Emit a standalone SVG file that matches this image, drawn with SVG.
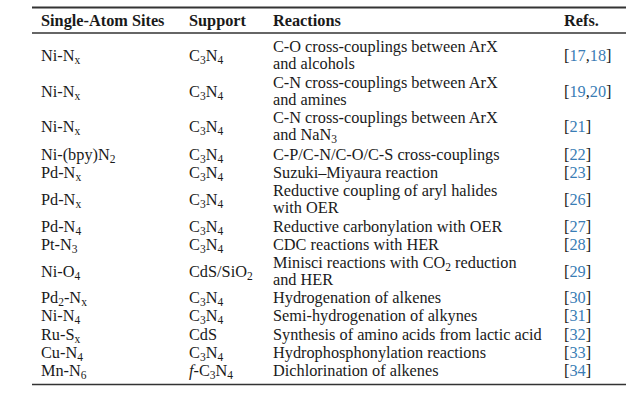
<svg xmlns="http://www.w3.org/2000/svg" width="642" height="400" viewBox="0 0 642 400">
<style>
text{font-family:"Liberation Serif","Times New Roman",serif;font-size:16.3px;fill:#1a1a1a}
.h{font-weight:bold}
.s{font-size:11.5px}
.r{fill:#3a7db5}
.rule{stroke:#333;fill:none}
</style>
<rect width="642" height="400" fill="#ffffff"/>
<g id="rules">
<line class="rule" x1="32" y1="7.5" x2="626" y2="7.5" stroke-width="2"/>
<line class="rule" x1="32" y1="33" x2="626" y2="33" stroke-width="1.3"/>
<line class="rule" x1="32" y1="384.5" x2="626" y2="384.5" stroke-width="1.5"/>
</g>
<g id="header">
<text class="h" x="41" y="26">Single-Atom Sites</text>
<text class="h" x="189" y="26">Support</text>
<text class="h" x="273" y="26">Reactions</text>
<text class="h" x="564" y="26">Refs.</text>
</g>
<g id="row1">
<text x="41" y="61">Ni-N<tspan class="s" dy="3">x</tspan></text>
<text x="189" y="61">C<tspan class="s" dy="3">3</tspan><tspan dy="-3">N</tspan><tspan class="s" dy="3">4</tspan></text>
<text x="273" y="52">C-O cross-couplings between ArX</text>
<text x="273" y="69">and alcohols</text>
<text x="564" y="61">[<tspan class="r">17</tspan>,<tspan class="r">18</tspan>]</text>
</g>
<g id="row2">
<text x="41" y="97">Ni-N<tspan class="s" dy="3">x</tspan></text>
<text x="189" y="97">C<tspan class="s" dy="3">3</tspan><tspan dy="-3">N</tspan><tspan class="s" dy="3">4</tspan></text>
<text x="273" y="88">C-N cross-couplings between ArX</text>
<text x="273" y="105">and amines</text>
<text x="564" y="97">[<tspan class="r">19</tspan>,<tspan class="r">20</tspan>]</text>
</g>
<g id="row3">
<text x="41" y="132">Ni-N<tspan class="s" dy="3">x</tspan></text>
<text x="189" y="132">C<tspan class="s" dy="3">3</tspan><tspan dy="-3">N</tspan><tspan class="s" dy="3">4</tspan></text>
<text x="273" y="123">C-N cross-couplings between ArX</text>
<text x="273" y="140">and NaN<tspan class="s" dy="3">3</tspan></text>
<text x="564" y="132">[<tspan class="r">21</tspan>]</text>
</g>
<g id="row4">
<text x="41" y="160">Ni-(bpy)N<tspan class="s" dy="3">2</tspan></text>
<text x="189" y="160">C<tspan class="s" dy="3">3</tspan><tspan dy="-3">N</tspan><tspan class="s" dy="3">4</tspan></text>
<text x="273" y="160">C-P/C-N/C-O/C-S cross-couplings</text>
<text x="564" y="160">[<tspan class="r">22</tspan>]</text>
</g>
<g id="row5">
<text x="41" y="178">Pd-N<tspan class="s" dy="3">x</tspan></text>
<text x="189" y="178">C<tspan class="s" dy="3">3</tspan><tspan dy="-3">N</tspan><tspan class="s" dy="3">4</tspan></text>
<text x="273" y="178">Suzuki–Miyaura reaction</text>
<text x="564" y="178">[<tspan class="r">23</tspan>]</text>
</g>
<g id="row6">
<text x="41" y="205">Pd-N<tspan class="s" dy="3">x</tspan></text>
<text x="189" y="205">C<tspan class="s" dy="3">3</tspan><tspan dy="-3">N</tspan><tspan class="s" dy="3">4</tspan></text>
<text x="273" y="196">Reductive coupling of aryl halides</text>
<text x="273" y="213">with OER</text>
<text x="564" y="205">[<tspan class="r">26</tspan>]</text>
</g>
<g id="row7">
<text x="41" y="232">Pd-N<tspan class="s" dy="3">4</tspan></text>
<text x="189" y="232">C<tspan class="s" dy="3">3</tspan><tspan dy="-3">N</tspan><tspan class="s" dy="3">4</tspan></text>
<text x="273" y="232">Reductive carbonylation with OER</text>
<text x="564" y="232">[<tspan class="r">27</tspan>]</text>
</g>
<g id="row8">
<text x="41" y="250">Pt-N<tspan class="s" dy="3">3</tspan></text>
<text x="189" y="250">C<tspan class="s" dy="3">3</tspan><tspan dy="-3">N</tspan><tspan class="s" dy="3">4</tspan></text>
<text x="273" y="250">CDC reactions with HER</text>
<text x="564" y="250">[<tspan class="r">28</tspan>]</text>
</g>
<g id="row9">
<text x="41" y="277">Ni-O<tspan class="s" dy="3">4</tspan></text>
<text x="189" y="277">CdS/SiO<tspan class="s" dy="3">2</tspan></text>
<text x="273" y="268">Minisci reactions with CO<tspan class="s" dy="3">2</tspan><tspan dy="-3"> reduction</tspan></text>
<text x="273" y="285">and HER</text>
<text x="564" y="277">[<tspan class="r">29</tspan>]</text>
</g>
<g id="row10">
<text x="41" y="303">Pd<tspan class="s" dy="3">2</tspan><tspan dy="-3">-N</tspan><tspan class="s" dy="3">x</tspan></text>
<text x="189" y="303">C<tspan class="s" dy="3">3</tspan><tspan dy="-3">N</tspan><tspan class="s" dy="3">4</tspan></text>
<text x="273" y="303">Hydrogenation of alkenes</text>
<text x="564" y="303">[<tspan class="r">30</tspan>]</text>
</g>
<g id="row11">
<text x="41" y="321">Ni-N<tspan class="s" dy="3">4</tspan></text>
<text x="189" y="321">C<tspan class="s" dy="3">3</tspan><tspan dy="-3">N</tspan><tspan class="s" dy="3">4</tspan></text>
<text x="273" y="321">Semi-hydrogenation of alkynes</text>
<text x="564" y="321">[<tspan class="r">31</tspan>]</text>
</g>
<g id="row12">
<text x="41" y="340">Ru-S<tspan class="s" dy="3">x</tspan></text>
<text x="189" y="340">CdS</text>
<text x="273" y="340">Synthesis of amino acids from lactic acid</text>
<text x="564" y="340">[<tspan class="r">32</tspan>]</text>
</g>
<g id="row13">
<text x="41" y="358">Cu-N<tspan class="s" dy="3">4</tspan></text>
<text x="189" y="358">C<tspan class="s" dy="3">3</tspan><tspan dy="-3">N</tspan><tspan class="s" dy="3">4</tspan></text>
<text x="273" y="358">Hydrophosphonylation reactions</text>
<text x="564" y="358">[<tspan class="r">33</tspan>]</text>
</g>
<g id="row14">
<text x="41" y="376">Mn-N<tspan class="s" dy="3">6</tspan></text>
<text x="189" y="376"><tspan font-style="italic">f</tspan>-C<tspan class="s" dy="3">3</tspan><tspan dy="-3">N</tspan><tspan class="s" dy="3">4</tspan></text>
<text x="273" y="376">Dichlorination of alkenes</text>
<text x="564" y="376">[<tspan class="r">34</tspan>]</text>
</g>
</svg>
